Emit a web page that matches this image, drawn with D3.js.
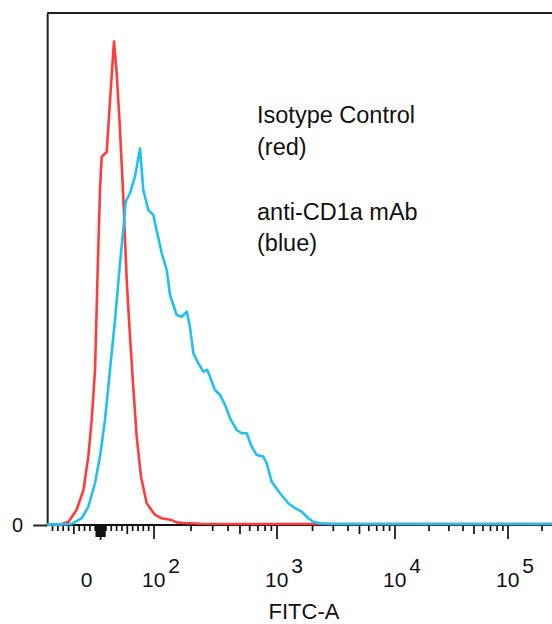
<!DOCTYPE html>
<html>
<head>
<meta charset="utf-8">
<script src="https://cdn.jsdelivr.net/npm/d3@7"></script>
<style>
  body { margin: 0; background: #fff; }
  text { font-family: "Liberation Sans", Arial, sans-serif; fill: #111; }
</style>
</head>
<body>
<svg id="chart" width="552" height="624"></svg>
<script>
const w = 552;
const h = 624;

// histogram values: FITC-A value and count
const redX = [-100, -76, -60, -45, -32, -23, -16.6, -10.4, -5.4, -1.1, 2.1, 11.5, 17.7, 25.1, 30.2, 36.4,
  42.5, 48.9, 55.1, 61.2, 67.6, 75.7, 86.3, 102, 115, 139, 153, 173, 237, 500, 1000, 10000, 100000, 262144];
const redCount = [0.3, 0.3, 1.6, 7.3, 17.1, 33.4, 51.3, 75.7, 124.5, 163.6, 179.8, 182.1, 207.5, 236, 220.6, 192.9,
  160.3, 119.6, 92, 67.5, 43.1, 23.6, 10.6, 4.9, 3.3, 2.4, 1.3, 1.0, 0.6, 0.5, 0.5, 0.5, 0.5, 0.5];

const blueX = [-100, -76, -54, -35.3, -23, -10.4, -1.1, 8.3, 17.6, 27, 36.4, 42.5, 47, 55.1, 64.4, 73.8,
  80, 89.3, 98.7, 105, 115.5, 127, 135, 153, 168, 184.5, 196, 209, 229, 252, 271, 285, 313, 344, 378, 415,
  470, 516, 567, 623, 684, 774, 825, 906, 1060, 1247, 1421, 1619, 1842, 2030, 2314, 3000, 10000, 100000, 262144];
const blueCount = [0.3, 0.3, 0.5, 3.3, 8.9, 20.5, 33.4, 51.3, 75.7, 100.1, 127.9, 144, 157.9, 162.1, 170.1, 183.9,
  163.6, 153.8, 151.4, 144, 132.8, 124.5, 112.3, 102.5, 101.7, 104.2, 96.8, 83.8, 79, 74.9, 75.7, 72.4, 65.9, 63.5, 58.6, 52.1,
  46.4, 44.8, 44.8, 38.2, 34.2, 33.4, 30.1, 21.1, 15.5, 10.6, 8.2, 6.5, 3.3, 1.6, 0.8, 0.5, 0.5, 0.5, 0.5];

// axis ticks
const decades = [2, 3, 4, 5];
const majorTicks = [100, 1000, 10000, 100000];
const linearTicks = [-90, -80, -70, -60, -50, -40, -30, -20, -10, 10, 20, 30, 40, 50, 60, 70, 80, 90];
const zeroTicks = [-8, -6, -4, -2, 0, 2, 4, 6, 8];
const multipliers = [2, 3, 4, 5, 6, 7, 8, 9];
const yMax = 250;

// biexponential-like transform: linear below 100, log above
function biex(v) {
  return v >= 100 ? Math.log10(v) : 2 + (v - 100) / (100 * Math.LN10);
}
const xLin = d3.scaleLinear().domain(decades).range([154, 277, 395, 508]);
const x = v => xLin(biex(v));
const y = d3.scaleLinear().domain([0, yMax]).range([525, 13]);

const svg = d3.select('#chart');

// frame: top line
svg.append('line')
  .attr('x1', x(-100)).attr('x2', w)
  .attr('y1', y(yMax)).attr('y2', y(yMax))
  .attr('stroke', '#222').attr('stroke-width', 2);

// y axis
const yAxis = d3.axisLeft(y).tickValues([0]).tickSize(14).tickPadding(10).tickSizeOuter(0);
const gy = svg.append('g')
  .attr('transform', `translate(${x(-100)},0)`)
  .call(yAxis);
gy.select('.domain').attr('stroke', '#222').attr('stroke-width', 2);
gy.selectAll('.tick line').attr('stroke', '#222').attr('stroke-width', 2);
gy.selectAll('.tick text').style('font-size', '20px').attr('fill', '#111');

// x ticks
let minorTicks = [];
majorTicks.forEach(m => multipliers.forEach(k => { if (m * k <= 262144) minorTicks.push(m * k); }));
const tickData = []
  .concat(linearTicks.map(v => ({v, len: Math.abs(v) === 50 ? 9 : 6})))
  .concat(zeroTicks.map(v => ({v, len: v === 0 ? 15 : 12})))
  .concat(minorTicks.map(v => ({v, len: String(v)[0] === '5' ? 9 : 6})))
  .concat(majorTicks.map(v => ({v, len: 14})));

const gx = svg.append('g').attr('id', 'x-axis');
gx.selectAll('line.tick')
  .data(tickData)
  .join('line')
  .attr('class', 'tick')
  .attr('x1', d => x(d.v)).attr('x2', d => x(d.v))
  .attr('y1', y(0)).attr('y2', d => y(0) + d.len)
  .attr('stroke', '#111').attr('stroke-width', 1.7);

// tick labels
gx.append('text')
  .attr('x', x(0) - 14).attr('y', 587)
  .attr('text-anchor', 'middle')
  .style('font-size', '21px')
  .text('0');
const lbl = gx.selectAll('text.pow')
  .data(decades)
  .join('text')
  .attr('class', 'pow')
  .attr('x', d => x(Math.pow(10, d)) - 12)
  .attr('y', 587)
  .style('font-size', '21px');
lbl.append('tspan').text('10');
lbl.append('tspan').attr('dx', 3).attr('dy', -14).text(d => d);

svg.append('text')
  .attr('x', 304).attr('y', 619)
  .attr('text-anchor', 'middle')
  .style('font-size', '22px')
  .text('FITC-A');

// baseline
svg.append('line')
  .attr('x1', x(-100)).attr('x2', w)
  .attr('y1', y(0)).attr('y2', y(0))
  .attr('stroke', '#111').attr('stroke-width', 2);

// histograms
const line = d3.line().x(d => x(d[0])).y(d => y(d[1]));
svg.append('path')
  .datum(d3.zip(redX, redCount))
  .attr('d', line)
  .attr('fill', 'none').attr('stroke', '#ff3b3b').attr('stroke-width', 2.6)
  .attr('stroke-linejoin', 'round');
svg.append('path')
  .datum(d3.zip(blueX, blueCount))
  .attr('d', line)
  .attr('fill', 'none').attr('stroke', '#1fc0f2').attr('stroke-width', 2.6)
  .attr('stroke-linejoin', 'round');

// legend text
const legendLines = ['Isotype Control', '(red)', 'anti-CD1a mAb', '(blue)'];
const legendY = [123, 155, 220, 251];
svg.selectAll('text.legend')
  .data(legendLines)
  .join('text')
  .attr('class', 'legend')
  .attr('x', 257)
  .attr('y', (d, i) => legendY[i])
  .style('font-size', '23.5px')
  .text(d => d);
</script>
</body>
</html>
